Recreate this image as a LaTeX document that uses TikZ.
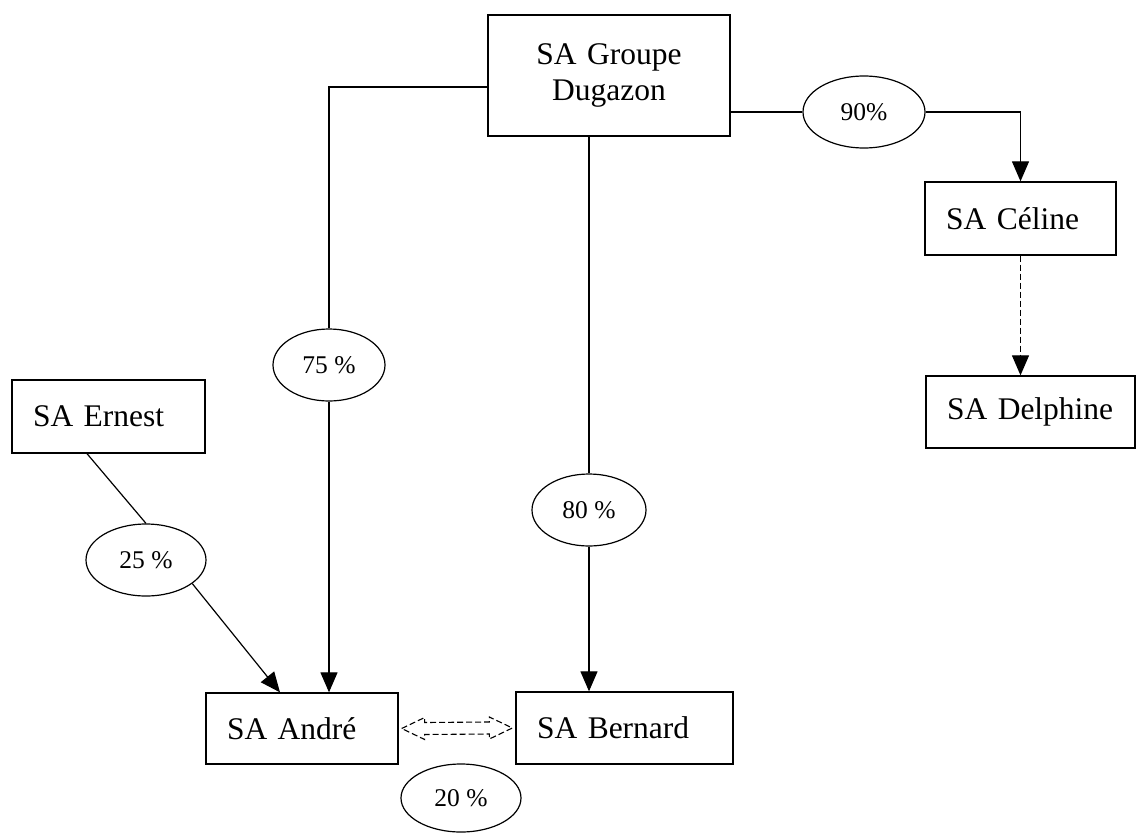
\documentclass[tikz,border=0pt]{standalone}
\usepackage{fontspec}
\setmainfont{Liberation Serif}
\usepackage{tikz}
\usetikzlibrary{arrows.meta,shapes.geometric,calc}

\begin{document}
\begin{tikzpicture}[x=1pt,y=-1pt,
  company/.style={draw,line width=1.3pt,rectangle,align=left,inner xsep=21pt,inner ysep=0pt,font=\fontsize{31.5}{36}\selectfont},
  share/.style={draw,line width=1.2pt,ellipse,inner sep=0pt,minimum height=72pt,font=\fontsize{25.5}{30}\selectfont},
  tie/.style={line width=1.2pt},
  link/.style={line width=1.2pt,-{Triangle[length=20pt,width=17pt]}},
  crossing/.style={line width=1.1pt,dash pattern=on 6pt off 3pt,line join=miter}]
\fill[white] (0,0) rectangle (1138,832);
\node[company,align=center,inner xsep=0pt,text width=242pt,minimum height=121pt] (groupe) at (609,75.5) {SA Groupe\\Dugazon};
\node[company,text width=149pt,minimum height=73pt] (celine) at (1020.5,218.5) {SA Céline};
\node[company,text width=167pt,minimum height=72pt] (delphine) at (1030.5,412) {SA Delphine};
\node[company,text width=151pt,minimum height=73pt] (ernest) at (108.5,416.5) {SA Ernest};
\node[company,text width=150pt,minimum height=71pt] (andre) at (302,728.5) {SA André};
\node[company,text width=175pt,minimum height=72pt] (bernard) at (624.5,728) {SA Bernard};
\node[share,minimum width=112pt] (pct75) at (329,365) {75 \%};
\node[share,minimum width=114pt] (pct80) at (589,510) {80 \%};
\node[share,minimum width=122pt] (pct90) at (864,112) {90\%};
\node[share,minimum width=120pt] (pct25) at (146,560) {25 \%};
\node[share,minimum width=120pt,minimum height=68pt] (pct20) at (461,798) {20 \%};
\draw[tie] ([yshift=-11.5pt]groupe.west) -| (pct75.north);
\draw[link] (pct75.south) -- (pct75.south |- andre.north);
\draw[tie] (groupe.south -| pct80.north) -- (pct80.north);
\draw[link] (pct80.south) -- (pct80.south |- bernard.north);
\draw[tie] (groupe.east |- pct90.west) -- (pct90.west);
\draw[link] (pct90.east) -| (celine.north);
\draw[link,dash pattern=on 6pt off 3pt] (celine.south) -- (celine.south |- delphine.north);
\draw[tie] ([xshift=-21.5pt]ernest.south) -- (pct25.north);
\draw[link] (pct25.-27) -- ([xshift=-22pt]andre.north);
\coordinate (lt) at ([xshift=3pt]andre.east);
\coordinate (rt) at ([xshift=-3pt]bernard.west);
\draw[crossing] (lt) -- ++(23,-11) -- ++(0,5) -- ($(rt)+(-23,-6)$) -- ++(0,-5) -- (rt)
  -- ++(-23,11) -- ++(0,-5) -- ($(lt)+(23,6)$) -- ++(0,5) -- cycle;
\end{tikzpicture}
\end{document}
